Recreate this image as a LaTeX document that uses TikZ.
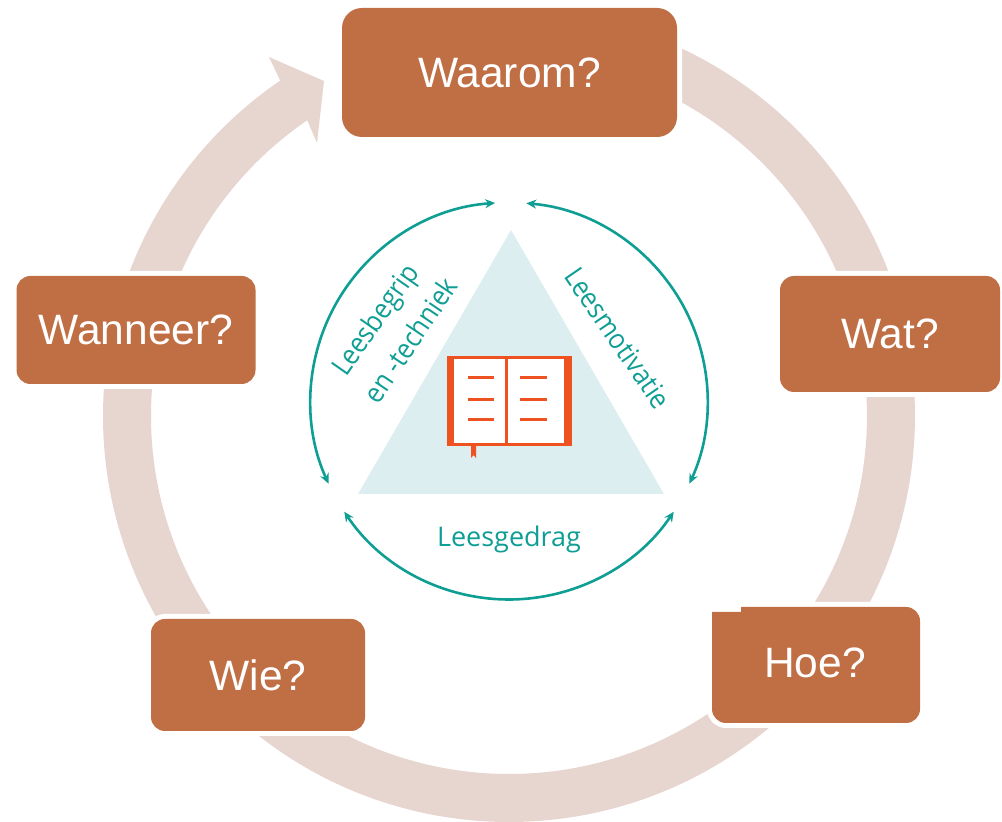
\documentclass[tikz,border=0pt]{standalone}
\usepackage{fontspec}
\setmainfont{Liberation Sans}
\newfontfamily\labelfont{Open Sans}
\newfontfamily\labelfontn[FakeStretch=0.9]{Open Sans}
\usetikzlibrary{arrows.meta}
\definecolor{boxc}{HTML}{C06F45}
\definecolor{ringc}{HTML}{E7D5CF}
\definecolor{tealc}{HTML}{0E9E94}
\definecolor{tric}{HTML}{DCEEF0}
\definecolor{bookc}{HTML}{EE5220}
\tikzset{
  ringseg/.style={draw=ringc,line width=48pt},
  haloed/.style={preaction={draw=white,line width=10pt}},
  qbox/.style={haloed,fill=boxc,rounded corners=#1,inner sep=0pt,text=white,font=\fontsize{42.5}{46}\selectfont},
  qtext/.style={inner sep=0pt,text=white,font=\fontsize{42.5}{46}\selectfont},
  tealarc/.style={draw=tealc,line width=2.6pt,{Stealth[length=10pt,width=9pt]}-{Stealth[length=10pt,width=9pt]}},
  tlabel/.style={inner sep=0pt,text=tealc,font=\labelfont\fontsize{27}{30}\selectfont},
  tlabeln/.style={inner sep=0pt,text=tealc,font=\labelfontn\fontsize{28}{30}\selectfont},
  bookline/.style={draw=bookc,line width=3pt}
}
\begin{document}
\begin{tikzpicture}[x=1pt,y=1pt]
\useasboundingbox (0,0) rectangle (1002,822);
\coordinate (ringc) at (509,406);
\coordinate (tc) at (509,421);
% ring
\draw[ringseg] ([shift={(70:382pt)}]ringc) arc[start angle=70,end angle=20,radius=382pt];
\draw[ringseg] ([shift={(5:382pt)}]ringc) arc[start angle=5,end angle=-35,radius=382pt];
\draw[ringseg] ([shift={(-45:382pt)}]ringc) arc[start angle=-45,end angle=-135,radius=382pt];
\draw[ringseg] ([shift={(215:382pt)}]ringc) arc[start angle=215,end angle=170,radius=382pt];
\fill[ringc] ([shift={(165:406pt)}]ringc) arc[start angle=165,end angle=124.3,radius=406pt]
  -- (269,765) -- (324,741) -- (317,679) -- ([shift={(124.3:358pt)}]ringc)
  arc[start angle=124.3,end angle=165,radius=358pt] -- cycle;
% boxes
\node[qbox=20pt,minimum width=335pt,minimum height=129pt] (waarom) at (509.5,749.5) {Waarom?};
\node[qbox=14pt,minimum width=220pt,minimum height=116pt] (wat) at (890,488) {Wat?};
\node[qbox=14pt,minimum width=214pt,minimum height=112pt] (wie) at (258,147) {Wie?};
\node[qbox=14pt,minimum width=239pt,minimum height=108pt] (wanneer) at (136,492) {Wanneer?};
\path[haloed,fill=boxc] (741,215) -- (906,215) arc[start angle=90,end angle=0,radius=14pt]
  -- (920,113) arc[start angle=0,end angle=-90,radius=14pt]
  -- (726,99) arc[start angle=-90,end angle=-180,radius=14pt]
  -- (712,210) -- (741,210) -- cycle;
\node[qtext] (hoe) at (815,159) {Hoe?};
% triangle
\fill[tric] (511,592) -- (358,328) -- (664,328) -- cycle;
% book
\fill[bookc] (447,376) rectangle (572,466);
\fill[white] (454,379) rectangle (564,463);
\fill[bookc] (505,376) rectangle (508,466);
\foreach \yy in {444,422,402}{
  \draw[bookline] (468,\yy) -- (494,\yy);
  \draw[bookline] (520,\yy) -- (547,\yy);
}
\fill[bookc] (471,376) -- (476,376) -- (476,364) -- (473.5,367) -- (471,364) -- cycle;
% teal arcs
\draw[tealarc] ([shift={(94:198.5pt)}]tc) arc[start angle=94,end angle=204.6,radius=198.5pt];
\draw[tealarc] ([shift={(85:198.5pt)}]tc) arc[start angle=85,end angle=-24.6,radius=198.5pt];
\draw[tealarc] ([shift={(213.9:198.5pt)}]tc) arc[start angle=213.9,end angle=326.1,radius=198.5pt];
% labels
\node[tlabel] (gedrag) at (509,283) {Leesgedrag};
\node[tlabeln,rotate=-55.5] (motivatie) at (618,484) {Leesmotivatie};
\node[tlabeln,rotate=55] (begrip) at (377,501) {Leesbegrip};
\node[tlabeln,rotate=56] (techniek) at (410,482) {en -techniek};
\end{tikzpicture}
\end{document}
